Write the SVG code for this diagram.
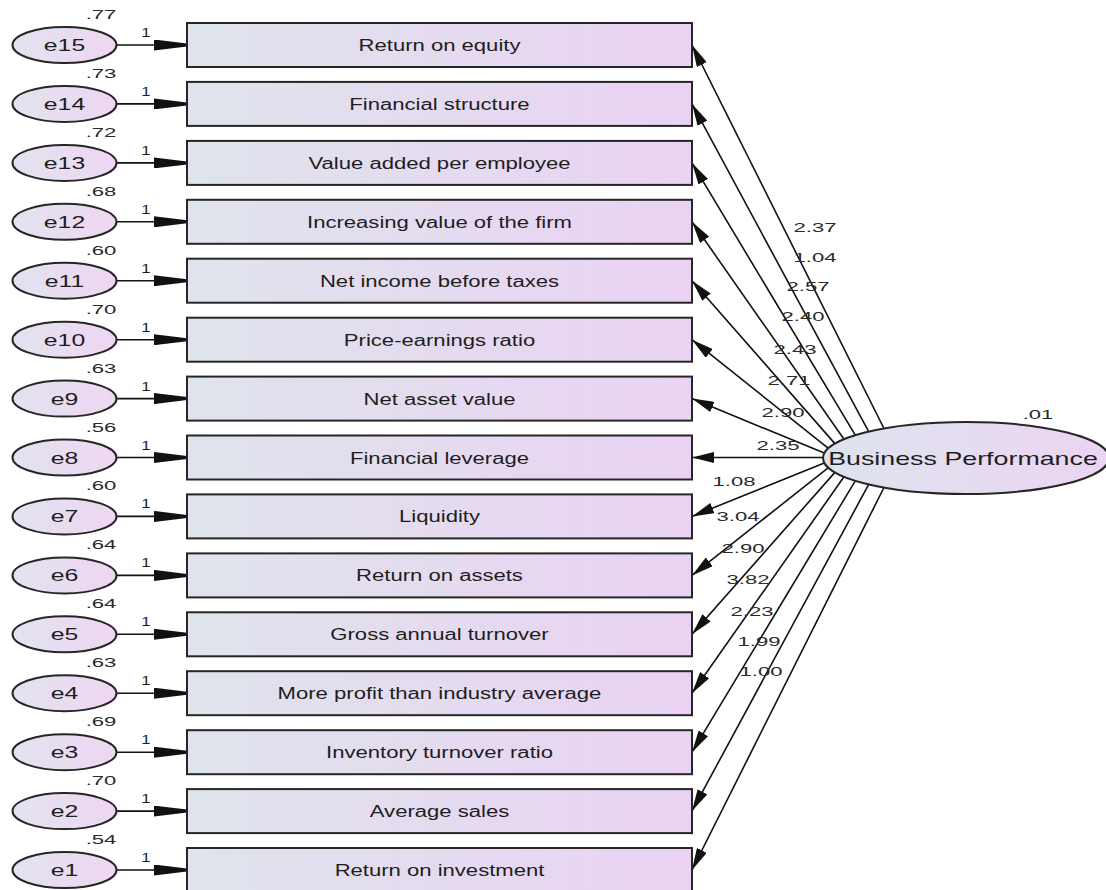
<svg xmlns="http://www.w3.org/2000/svg" width="1106" height="890" viewBox="0 0 1106 890">
<style>
.bg{fill:#ffffff}
.box{fill:url(#gBox);stroke:#262626;stroke-width:2}
.err{fill:url(#gErr);stroke:#262626;stroke-width:2}
.lat{fill:url(#gLat);stroke:#262626;stroke-width:2}
.lbl{font-family:"Liberation Sans",Arial,sans-serif;font-size:16px;fill:#1e1e1e;text-anchor:middle}
.blbl{font-family:"Liberation Sans",Arial,sans-serif;font-size:18px;fill:#1e1e1e;text-anchor:middle}
.elbl{font-family:"Liberation Sans",Arial,sans-serif;font-size:16px;fill:#1e1e1e;text-anchor:middle}
.num{font-family:"Liberation Sans",Arial,sans-serif;font-size:13px;fill:#2a2a2a;text-anchor:middle}
.one{font-family:"Liberation Sans",Arial,sans-serif;font-size:12px;fill:#1e1e1e;text-anchor:middle}
.ln{stroke:#111;stroke-width:1.6;fill:none;marker-end:url(#ah)}
.eln{stroke:#111;stroke-width:1.6;fill:none;marker-end:url(#eh)}
</style>
<defs>
<linearGradient id="gBox" x1="0" y1="0" x2="1" y2="0">
<stop offset="0" stop-color="#dfe4ec"/>
<stop offset="1" stop-color="#ead2f3"/>
</linearGradient>
<linearGradient id="gErr" x1="0" y1="0" x2="1" y2="0">
<stop offset="0" stop-color="#e2e3f0"/>
<stop offset="1" stop-color="#efd6f2"/>
</linearGradient>
<linearGradient id="gLat" x1="0" y1="0" x2="1" y2="0">
<stop offset="0" stop-color="#dde4ee"/>
<stop offset="1" stop-color="#ecd4f2"/>
</linearGradient>
<marker id="ah" markerUnits="userSpaceOnUse" viewBox="0 0 22 11" refX="22" refY="5.5" markerWidth="22" markerHeight="11" orient="auto">
<path d="M0,0 L22,5.5 L0,11 z" fill="#111"/>
</marker>
<marker id="eh" markerUnits="userSpaceOnUse" viewBox="0 0 33 11" refX="33" refY="5.5" markerWidth="33" markerHeight="11" orient="auto">
<path d="M0,0 L33,4 L33,7 L0,11 z" fill="#111"/>
</marker>
</defs>
<rect class="bg" x="0" y="0" width="1106" height="890"/>

<g id="connectors">
<line class="eln" x1="117" y1="45" x2="187" y2="45"/>
<line class="eln" x1="117" y1="103.9" x2="187" y2="103.9"/>
<line class="eln" x1="117" y1="162.9" x2="187" y2="162.9"/>
<line class="eln" x1="117" y1="221.8" x2="187" y2="221.8"/>
<line class="eln" x1="117" y1="280.7" x2="187" y2="280.7"/>
<line class="eln" x1="117" y1="339.7" x2="187" y2="339.7"/>
<line class="eln" x1="117" y1="398.6" x2="187" y2="398.6"/>
<line class="eln" x1="117" y1="457.5" x2="187" y2="457.5"/>
<line class="eln" x1="117" y1="516.4" x2="187" y2="516.4"/>
<line class="eln" x1="117" y1="575.4" x2="187" y2="575.4"/>
<line class="eln" x1="117" y1="634.3" x2="187" y2="634.3"/>
<line class="eln" x1="117" y1="693.2" x2="187" y2="693.2"/>
<line class="eln" x1="117" y1="752.2" x2="187" y2="752.2"/>
<line class="eln" x1="117" y1="811.1" x2="187" y2="811.1"/>
<line class="eln" x1="117" y1="870" x2="187" y2="870"/>
<text class="one" transform="translate(146,37) scale(1.4,1)">1</text>
<text class="one" transform="translate(146,95.9) scale(1.4,1)">1</text>
<text class="one" transform="translate(146,154.9) scale(1.4,1)">1</text>
<text class="one" transform="translate(146,213.8) scale(1.4,1)">1</text>
<text class="one" transform="translate(146,272.7) scale(1.4,1)">1</text>
<text class="one" transform="translate(146,331.7) scale(1.4,1)">1</text>
<text class="one" transform="translate(146,390.6) scale(1.4,1)">1</text>
<text class="one" transform="translate(146,449.5) scale(1.4,1)">1</text>
<text class="one" transform="translate(146,508.4) scale(1.4,1)">1</text>
<text class="one" transform="translate(146,567.4) scale(1.4,1)">1</text>
<text class="one" transform="translate(146,626.3) scale(1.4,1)">1</text>
<text class="one" transform="translate(146,685.2) scale(1.4,1)">1</text>
<text class="one" transform="translate(146,744.2) scale(1.4,1)">1</text>
<text class="one" transform="translate(146,803.1) scale(1.4,1)">1</text>
<text class="one" transform="translate(146,862) scale(1.4,1)">1</text>

<line class="ln" x1="884.0" y1="428.5" x2="692" y2="45"/>
<line class="ln" x1="868.7" y1="431.6" x2="692" y2="103.9"/>
<line class="ln" x1="855.3" y1="435.2" x2="692" y2="162.9"/>
<line class="ln" x1="844.0" y1="439.2" x2="692" y2="221.8"/>
<line class="ln" x1="834.9" y1="443.6" x2="692" y2="280.7"/>
<line class="ln" x1="828.4" y1="448.3" x2="692" y2="339.7"/>
<line class="ln" x1="824.3" y1="453.1" x2="692" y2="398.6"/>
<line class="ln" x1="823" y1="457.5" x2="692" y2="457.5"/>
<line class="ln" x1="824.3" y1="462.9" x2="692" y2="516.4"/>
<line class="ln" x1="828.4" y1="467.7" x2="692" y2="575.4"/>
<line class="ln" x1="834.9" y1="472.4" x2="692" y2="634.3"/>
<line class="ln" x1="844.0" y1="476.8" x2="692" y2="693.2"/>
<line class="ln" x1="855.3" y1="480.8" x2="692" y2="752.2"/>
<line class="ln" x1="868.7" y1="484.4" x2="692" y2="811.1"/>
<line class="ln" x1="884.0" y1="487.5" x2="692" y2="870"/>
<text class="num" transform="translate(815,232) scale(1.7,1)">2.37</text>
<text class="num" transform="translate(815,262) scale(1.7,1)">1.04</text>
<text class="num" transform="translate(808,291) scale(1.7,1)">2.57</text>
<text class="num" transform="translate(803,321) scale(1.7,1)">2.40</text>
<text class="num" transform="translate(795,354) scale(1.7,1)">2.43</text>
<text class="num" transform="translate(789,385) scale(1.7,1)">2.71</text>
<text class="num" transform="translate(783,417) scale(1.7,1)">2.90</text>
<text class="num" transform="translate(778,450) scale(1.7,1)">2.35</text>
<text class="num" transform="translate(734,486) scale(1.7,1)">1.08</text>
<text class="num" transform="translate(738,521) scale(1.7,1)">3.04</text>
<text class="num" transform="translate(743,553) scale(1.7,1)">2.90</text>
<text class="num" transform="translate(748,584) scale(1.7,1)">3.82</text>
<text class="num" transform="translate(752,616) scale(1.7,1)">2.23</text>
<text class="num" transform="translate(759,646) scale(1.7,1)">1.99</text>
<text class="num" transform="translate(761,676) scale(1.7,1)">1.00</text>
</g>

<g id="e15"><ellipse class="err" cx="64.5" cy="45" rx="52" ry="18"/><text class="elbl" transform="translate(64.5,51) scale(1.55,1)">e15</text><text class="num" transform="translate(101,19) scale(1.7,1)">.77</text></g>
<g id="e14"><ellipse class="err" cx="64.5" cy="103.9" rx="52" ry="18"/><text class="elbl" transform="translate(64.5,109.9) scale(1.55,1)">e14</text><text class="num" transform="translate(101,77.9) scale(1.7,1)">.73</text></g>
<g id="e13"><ellipse class="err" cx="64.5" cy="162.9" rx="52" ry="18"/><text class="elbl" transform="translate(64.5,168.9) scale(1.55,1)">e13</text><text class="num" transform="translate(101,136.9) scale(1.7,1)">.72</text></g>
<g id="e12"><ellipse class="err" cx="64.5" cy="221.8" rx="52" ry="18"/><text class="elbl" transform="translate(64.5,227.8) scale(1.55,1)">e12</text><text class="num" transform="translate(101,195.8) scale(1.7,1)">.68</text></g>
<g id="e11"><ellipse class="err" cx="64.5" cy="280.7" rx="52" ry="18"/><text class="elbl" transform="translate(64.5,286.7) scale(1.55,1)">e11</text><text class="num" transform="translate(101,254.7) scale(1.7,1)">.60</text></g>
<g id="e10"><ellipse class="err" cx="64.5" cy="339.7" rx="52" ry="18"/><text class="elbl" transform="translate(64.5,345.7) scale(1.55,1)">e10</text><text class="num" transform="translate(101,313.7) scale(1.7,1)">.70</text></g>
<g id="e9"><ellipse class="err" cx="64.5" cy="398.6" rx="52" ry="18"/><text class="elbl" transform="translate(64.5,404.6) scale(1.55,1)">e9</text><text class="num" transform="translate(101,372.6) scale(1.7,1)">.63</text></g>
<g id="e8"><ellipse class="err" cx="64.5" cy="457.5" rx="52" ry="18"/><text class="elbl" transform="translate(64.5,463.5) scale(1.55,1)">e8</text><text class="num" transform="translate(101,431.5) scale(1.7,1)">.56</text></g>
<g id="e7"><ellipse class="err" cx="64.5" cy="516.4" rx="52" ry="18"/><text class="elbl" transform="translate(64.5,522.4) scale(1.55,1)">e7</text><text class="num" transform="translate(101,490.4) scale(1.7,1)">.60</text></g>
<g id="e6"><ellipse class="err" cx="64.5" cy="575.4" rx="52" ry="18"/><text class="elbl" transform="translate(64.5,581.4) scale(1.55,1)">e6</text><text class="num" transform="translate(101,549.4) scale(1.7,1)">.64</text></g>
<g id="e5"><ellipse class="err" cx="64.5" cy="634.3" rx="52" ry="18"/><text class="elbl" transform="translate(64.5,640.3) scale(1.55,1)">e5</text><text class="num" transform="translate(101,608.3) scale(1.7,1)">.64</text></g>
<g id="e4"><ellipse class="err" cx="64.5" cy="693.2" rx="52" ry="18"/><text class="elbl" transform="translate(64.5,699.2) scale(1.55,1)">e4</text><text class="num" transform="translate(101,667.2) scale(1.7,1)">.63</text></g>
<g id="e3"><ellipse class="err" cx="64.5" cy="752.2" rx="52" ry="18"/><text class="elbl" transform="translate(64.5,758.2) scale(1.55,1)">e3</text><text class="num" transform="translate(101,726.2) scale(1.7,1)">.69</text></g>
<g id="e2"><ellipse class="err" cx="64.5" cy="811.1" rx="52" ry="18"/><text class="elbl" transform="translate(64.5,817.1) scale(1.55,1)">e2</text><text class="num" transform="translate(101,785.1) scale(1.7,1)">.70</text></g>
<g id="e1"><ellipse class="err" cx="64.5" cy="870" rx="52" ry="18"/><text class="elbl" transform="translate(64.5,876) scale(1.55,1)">e1</text><text class="num" transform="translate(101,844) scale(1.7,1)">.54</text></g>

<g id="roe"><rect class="box" x="187" y="23" width="505" height="44"/><text class="lbl" transform="translate(439.5,51) scale(1.38,1)">Return on equity</text></g>
<g id="fs"><rect class="box" x="187" y="81.9" width="505" height="44"/><text class="lbl" transform="translate(439.5,109.9) scale(1.38,1)">Financial structure</text></g>
<g id="vape"><rect class="box" x="187" y="140.9" width="505" height="44"/><text class="lbl" transform="translate(439.5,168.9) scale(1.38,1)">Value added per employee</text></g>
<g id="ivf"><rect class="box" x="187" y="199.8" width="505" height="44"/><text class="lbl" transform="translate(439.5,227.8) scale(1.38,1)">Increasing value of the firm</text></g>
<g id="nibt"><rect class="box" x="187" y="258.7" width="505" height="44"/><text class="lbl" transform="translate(439.5,286.7) scale(1.38,1)">Net income before taxes</text></g>
<g id="per"><rect class="box" x="187" y="317.7" width="505" height="44"/><text class="lbl" transform="translate(439.5,345.7) scale(1.38,1)">Price-earnings ratio</text></g>
<g id="nav"><rect class="box" x="187" y="376.6" width="505" height="44"/><text class="lbl" transform="translate(439.5,404.6) scale(1.38,1)">Net asset value</text></g>
<g id="fl"><rect class="box" x="187" y="435.5" width="505" height="44"/><text class="lbl" transform="translate(439.5,463.5) scale(1.38,1)">Financial leverage</text></g>
<g id="liq"><rect class="box" x="187" y="494.4" width="505" height="44"/><text class="lbl" transform="translate(439.5,522.4) scale(1.38,1)">Liquidity</text></g>
<g id="roa"><rect class="box" x="187" y="553.4" width="505" height="44"/><text class="lbl" transform="translate(439.5,581.4) scale(1.38,1)">Return on assets</text></g>
<g id="gat"><rect class="box" x="187" y="612.3" width="505" height="44"/><text class="lbl" transform="translate(439.5,640.3) scale(1.38,1)">Gross annual turnover</text></g>
<g id="mpia"><rect class="box" x="187" y="671.2" width="505" height="44"/><text class="lbl" transform="translate(439.5,699.2) scale(1.38,1)">More profit than industry average</text></g>
<g id="itr"><rect class="box" x="187" y="730.2" width="505" height="44"/><text class="lbl" transform="translate(439.5,758.2) scale(1.38,1)">Inventory turnover ratio</text></g>
<g id="as"><rect class="box" x="187" y="789.1" width="505" height="44"/><text class="lbl" transform="translate(439.5,817.1) scale(1.38,1)">Average sales</text></g>
<g id="roi"><rect class="box" x="187" y="848" width="505" height="44"/><text class="lbl" transform="translate(439.5,876) scale(1.38,1)">Return on investment</text></g>

<g id="bp"><ellipse class="lat" cx="966" cy="458" rx="143" ry="36"/><text class="blbl" transform="translate(963,465) scale(1.49,1)">Business Performance</text><text class="num" transform="translate(1038,419) scale(1.7,1)">.01</text></g>
</svg>
